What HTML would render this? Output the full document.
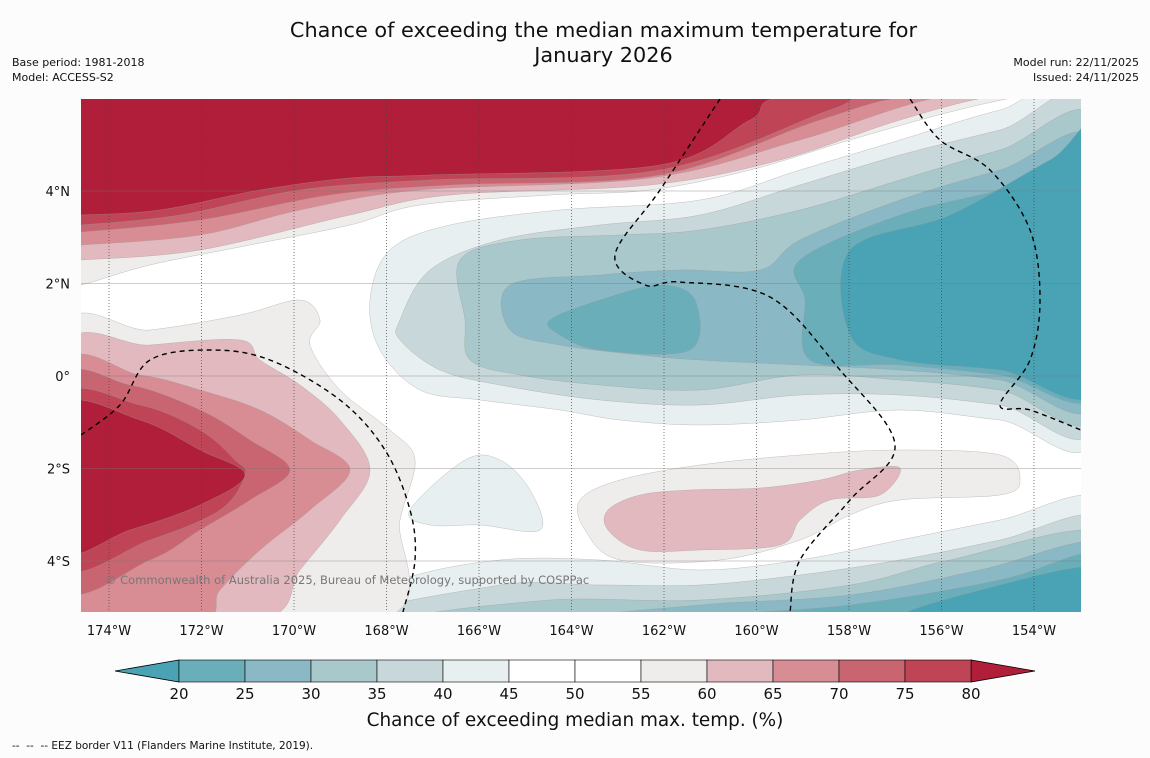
<!DOCTYPE html>
<html><head><meta charset="utf-8">
<style>
body{margin:0;background:#fcfcfc;font-family:"DejaVu Sans","Liberation Sans",sans-serif;}
#wrap{position:relative;width:1150px;height:758px;overflow:hidden;background:#fcfcfc;}
.t{position:absolute;color:#111;}
svg text{font-family:"DejaVu Sans","Liberation Sans",sans-serif;}
</style></head><body>
<div id="wrap">
<div class="t" style="left:0;width:1207px;top:18px;text-align:center;font-size:20.8px;line-height:25px;">Chance of exceeding the median maximum temperature for<br>January 2026</div>
<div class="t" style="left:12px;top:55px;font-size:11px;line-height:15px;">Base period: 1981-2018<br>Model: ACCESS-S2</div>
<div class="t" style="right:11px;top:55px;font-size:11px;line-height:15px;text-align:right;">Model run: 22/11/2025<br>Issued: 24/11/2025</div>
<svg id="svg" width="1150" height="758" style="position:absolute;left:0;top:0"></svg>
<div class="t" style="left:12px;top:740px;font-size:10.5px;">--&nbsp; --&nbsp; -- EEZ border V11 (Flanders Marine Institute, 2019).</div>
</div>
<script>
const levels=[20,25,30,35,40,45,50,55,60,65,70,75,80];
const binColors=["#6aaeba","#8ab8c4","#a8c8cc","#c8d8da","#e8eff0","#ffffff","#ffffff","#efecec","#e2b9be","#d88d95","#c96571","#bf4556"];
const lowColor="#4aa3b5", highColor="#b01e3a";
const lonTicks=[174,172,170,168,166,164,162,160,158,156,154];
const latTicks=[4,2,0,-2,-4];
const X=lon=>109+(174-lon)*46.25;
const Y=lat=>376-lat*46.25;
const NS="http://www.w3.org/2000/svg";
const svg=document.getElementById('svg');
function mk(tag,attrs,parent){const e=document.createElementNS(NS,tag);for(const k in attrs)e.setAttribute(k,attrs[k]);(parent||svg).appendChild(e);return e;}
function smooth(p,closed){let d="M"+p[0][0]+","+p[0][1];const n=p.length;
 for(let i=0;i<(closed?n:n-1);i++){const p0=p[(i-1+n)%n],p1=p[i],p2=p[(i+1)%n],p3=p[(i+2)%n];
  const a=closed||i>0?p0:p1,b=closed||i<n-2?p3:p2;
  d+=` C${p1[0]+(p2[0]-a[0])/6},${p1[1]+(p2[1]-a[1])/6} ${p2[0]-(b[0]-p1[0])/6},${p2[1]-(b[1]-p1[1])/6} ${p2[0]},${p2[1]}`;}
 return d+(closed?"Z":"");}
const defs=mk('defs',{});const cp=mk('clipPath',{id:'mc'},defs);mk('rect',{x:81,y:99,width:1000,height:513},cp);
const g=mk('g',{'clip-path':'url(#mc)'});


mk('rect',{x:81,y:99,width:1000,height:513,fill:'#fff'},g);
function region(name,col,pts){const p=mk('path',{d:smooth(pts,true),fill:col,stroke:'#999','stroke-width':0.3},g);
 }
const topC=[["#efecec",[[81,285],[150,265],[250,245],[350,225],[420,205],[550,195],[650,190],[750,170],[850,140],[950,112],[1030,95]]],
["#e2b9be",[[81,260],[200,250],[350,215],[450,195],[650,185],[780,160],[900,120],[1000,95]]],
["#d88d95",[[81,245],[200,235],[300,210],[420,190],[650,178],[800,140],[950,95]]],
["#c96571",[[81,232],[200,220],[330,195],[450,185],[660,175],[820,120],[920,95]]],
["#bf4556",[[81,225],[180,215],[300,190],[430,180],[660,170],[830,110],[880,95]]],
["#b01e3a",[[81,215],[160,210],[260,190],[350,178],[430,175],[660,165],[750,120],[800,95]]]];
topC.forEach((c,i)=>region('north-warm-band-'+i,c[0],[[60,95],[60,c[1][0][1]],...c[1],[1100,90]]));
region('east-cool-40',"#e8eff0",[[370,300],[390,250],[450,225],[560,210],[700,200],[800,170],[900,140],[1000,110],[1100,90],[1100,430],[1000,420],[900,410],[800,420],[700,425],[620,420],[560,410],[480,400],[420,390],[380,350]]);
region('east-cool-35',"#c8d8da",[[400,320],[430,270],[500,240],[600,225],[700,215],[800,185],[900,155],[1000,130],[1100,105],[1100,420],[1000,405],[900,395],[800,395],[700,405],[600,400],[500,385],[440,370],[400,340]]);
region('east-cool-30',"#a8c8cc",[[460,260],[520,240],[620,235],[700,230],[800,210],[900,180],[1000,150],[1100,125],[1100,410],[1000,390],[900,380],[800,375],[700,390],[600,385],[520,375],[470,360],[465,320]]);
region('east-cool-25',"#8ab8c4",[[510,285],[600,275],[680,270],[760,270],[800,240],[900,200],[1000,170],[1100,145],[1100,400],[1000,380],[900,370],[800,365],[700,360],[640,355],[560,345],[510,330]]);
region('central-cool-20',"#6aaeba",[[550,320],[600,300],[660,285],[695,300],[690,350],[600,350],[560,335]]);
region('east-cool-20',"#6aaeba",[[800,260],[900,215],[1000,190],[1100,160],[1100,390],[1000,375],[900,365],[810,360],[805,300]]);
region('east-cool-low',lowColor,[[850,250],[950,215],[1050,160],[1100,135],[1100,385],[1000,370],[900,360],[850,335]]);
region('south-cool-40',"#e8eff0",[[330,620],[400,580],[500,560],[600,560],[700,570],[800,560],[900,540],[1000,520],[1100,500],[1100,620]]);
region('small-cool-patch',"#e8eff0",[[410,510],[465,460],[500,460],[530,490],[540,530],[480,525],[430,525]]);
region('south-cool-35',"#c8d8da",[[400,620],[500,585],[600,585],[700,585],[800,575],[900,560],[1000,540],[1100,518],[1100,620]]);
region('south-cool-30',"#a8c8cc",[[450,620],[550,600],[700,600],[850,585],[950,560],[1100,532],[1100,620]]);
region('south-cool-25',"#8ab8c4",[[600,620],[700,605],[850,595],[980,570],[1100,543],[1100,620]]);
region('south-cool-20',"#6aaeba",[[680,620],[850,605],[1000,580],[1100,553],[1100,620]]);
region('south-cool-low',lowColor,[[900,620],[1000,585],[1100,568],[1100,620]]);
region('sw-warm-55',"#efecec",[[60,335],[150,330],[240,315],[300,300],[320,320],[310,345],[340,390],[390,430],[415,460],[400,520],[380,620],[60,620]]);
region('sw-warm-60',"#e2b9be",[[60,355],[150,345],[240,340],[260,360],[300,385],[340,420],[370,470],[340,520],[300,570],[260,620],[60,620]]);
region('sw-warm-65',"#d88d95",[[60,372],[140,375],[200,390],[260,410],[310,440],[350,470],[310,510],[260,550],[220,590],[200,620],[60,620]]);
region('sw-warm-70',"#c96571",[[60,385],[130,385],[200,410],[250,440],[290,470],[250,500],[200,530],[150,560],[60,585]]);
region('sw-warm-75',"#bf4556",[[60,400],[140,405],[200,430],[235,460],[245,475],[220,510],[150,540],[60,565]]);
region('sw-warm-80',highColor,[[60,408],[140,420],[200,450],[245,475],[200,505],[130,530],[60,548]]);
region('sc-warm-55',"#efecec",[[580,500],[620,480],[700,465],[800,455],[900,450],[1000,455],[1020,480],[1000,495],[900,500],[850,515],[800,540],[720,560],[620,560],[585,530]]);
region('sc-warm-60',"#e2b9be",[[608,510],[640,495],[690,490],[760,488],[820,480],[860,470],[900,468],[880,495],[830,500],[800,520],[780,545],[700,550],[640,550],[608,530]]);
lonTicks.forEach(l=>{const x=X(l);mk('line',{x1:x,x2:x,y1:99,y2:612,stroke:'#444','stroke-width':0.7,'stroke-dasharray':'1,2'},g);});
latTicks.forEach(l=>{const y=Y(l);mk('line',{x1:81,x2:1081,y1:y,y2:y,stroke:'#777','stroke-width':0.6,opacity:0.7},g);});
[[[720,99],[660,190],[615,255],[645,285],[680,282],[770,297],[840,370],[895,445],[850,500],[800,560],[790,612]],
 [[910,99],[940,140],[990,170],[1030,230],[1040,300],[1030,360],[1000,405],[1030,410],[1081,430]],
 [[81,435],[120,405],[150,360],[210,350],[270,360],[340,400],[385,450],[410,510],[415,560],[403,612]]].forEach((p,i)=>{
 const e=mk('path',{d:smooth(p,false),fill:'none',stroke:'#000','stroke-width':1.4,'stroke-dasharray':'5,4'},g);
 });
const cr=mk('text',{x:105,y:584,'font-size':11.5,fill:'#777'},g);cr.textContent="© Commonwealth of Australia 2025, Bureau of Meteorology, supported by COSPPac";

lonTicks.forEach(l=>{const t=mk('text',{x:X(l),y:635,'font-size':13,'text-anchor':'middle',fill:'#111'});t.textContent=l+"°W";
 });
latTicks.forEach(l=>{const t=mk('text',{x:70,y:Y(l)+5,'font-size':13,'text-anchor':'end',fill:'#111'});t.textContent=l==0?"0°":Math.abs(l)+"°"+(l>0?"N":"S");
 });
const cx=v=>179+(v-20)*13.2;
const lo=mk('polygon',{points:`115,671 ${cx(20)},660 ${cx(20)},682`,fill:lowColor,stroke:'#000','stroke-width':0.8});

const hi=mk('polygon',{points:`1035,671 ${cx(80)},660 ${cx(80)},682`,fill:highColor,stroke:'#000','stroke-width':0.8});

binColors.forEach((c,i)=>{const r=mk('rect',{x:cx(levels[i]),y:660,width:cx(levels[i+1])-cx(levels[i]),height:22,fill:c,stroke:'#000','stroke-width':0.6});
 });
levels.forEach(v=>{const t=mk('text',{x:cx(v),y:699,'font-size':15,'text-anchor':'middle',fill:'#111'});t.textContent=v;
 });
const ct=mk('text',{x:575,y:726,'font-size':18.4,'text-anchor':'middle',fill:'#111'});ct.textContent="Chance of exceeding median max. temp. (%)";

</script>
</body></html>
